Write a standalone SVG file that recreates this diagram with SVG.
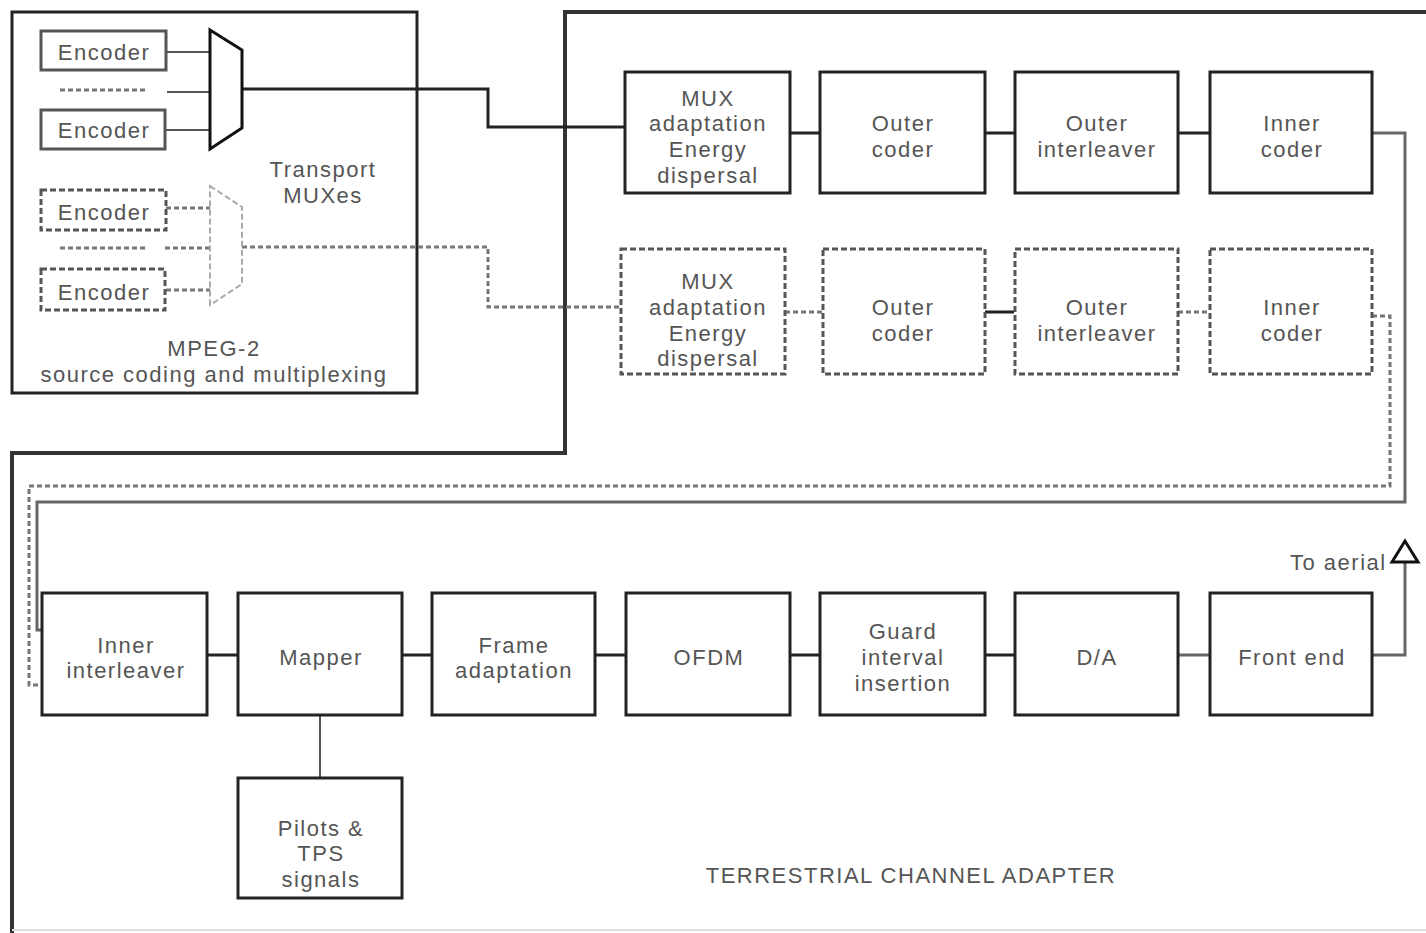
<svg xmlns="http://www.w3.org/2000/svg" width="1426" height="933" viewBox="0 0 1426 933">
<style>
text{font-family:"Liberation Sans",Arial,sans-serif;font-size:22px;letter-spacing:1.5px;fill:#555;text-anchor:middle}
.box{fill:#fff;stroke:#222;stroke-width:3}
.dbox{fill:#fff;stroke:#555;stroke-width:3;stroke-dasharray:6 3}
.enc{fill:#fff;stroke:#555;stroke-width:3}
.ln{fill:none;stroke:#222;stroke-width:3}
.gl{fill:none;stroke:#666;stroke-width:3}
.dl{fill:none;stroke:#777;stroke-width:3;stroke-dasharray:5 3}
.thin{fill:none;stroke:#555;stroke-width:2}
</style>
<rect width="1426" height="933" fill="#fff"/>
<g id="frames">
<rect x="12" y="12" width="405" height="381" fill="none" stroke="#222" stroke-width="3"/>
<path d="M12 933 V453 H565 V12 H1426" fill="none" stroke="#333" stroke-width="4"/>
<path d="M12 930 H1426" fill="none" stroke="#ddd" stroke-width="2"/>
</g>
<g id="connectors">
<path class="thin" d="M166 52 H210 M167 92 H210 M166 130 H210"/>
<path class="dl" d="M60 90 H145" stroke-width="2"/>
<path class="ln" d="M242 89 H488 V127 H625"/>
<path class="dl" d="M166 208 H210 M165 248 H210 M166 290 H210"/>
<path class="dl" d="M60 248 H145" stroke-width="2"/>
<path class="dl" d="M242 247 H488 V307 H620"/>
<path class="ln" d="M790 133 H820 M985 133 H1015 M1178 133 H1210"/>
<path class="dl" d="M785 312 H823"/>
<path class="ln" d="M985 312 H1014"/>
<path class="dl" d="M1178 312 H1208"/>
<path class="gl" d="M1372 133 H1405 V502 H37 V630 H42"/>
<path class="dl" d="M1372 316 H1390 V486 H29 V685 H42" stroke-width="2"/>
<path class="ln" d="M207 655 H238 M402 655 H432 M595 655 H626 M790 655 H820 M985 655 H1015"/>
<path class="gl" d="M1178 655 H1210 M1372 655 H1405 V560"/>
<path class="thin" d="M320 715 V778"/>
</g>
<g id="mpeg">
<g id="enc1"><rect class="enc" x="41" y="31" width="125" height="39"/><text x="104" y="60">Encoder</text></g>
<g id="enc2"><rect class="enc" x="41" y="110" width="124" height="39"/><text x="104" y="138">Encoder</text></g>
<g id="enc3"><rect class="dbox" x="41" y="190" width="125" height="40" stroke="#444"/><text x="104" y="220">Encoder</text></g>
<g id="enc4"><rect class="dbox" x="41" y="269" width="124" height="41" stroke="#888"/><text x="104" y="300">Encoder</text></g>
<g id="mux1"><polygon points="210,30 242,50 242,128 210,149" fill="#fff" stroke="#111" stroke-width="3"/></g>
<g id="mux2"><polygon points="210,186 242,207 242,284 210,305" fill="#fff" stroke="#aaa" stroke-width="2" stroke-dasharray="6 3"/></g>
<text x="323" y="177">Transport</text>
<text x="323" y="203">MUXes</text>
<text x="214" y="356">MPEG-2</text>
<text x="214" y="382">source coding and multiplexing</text>
</g>
<g id="row1">
<g id="mux_adapt"><rect class="box" x="625" y="72" width="165" height="121"/><text x="708" y="106">MUX</text><text x="708" y="131">adaptation</text><text x="708" y="157">Energy</text><text x="708" y="183">dispersal</text></g>
<g id="outer_coder"><rect class="box" x="820" y="72" width="165" height="121"/><text x="903" y="131">Outer</text><text x="903" y="157">coder</text></g>
<g id="outer_int"><rect class="box" x="1015" y="72" width="163" height="121"/><text x="1097" y="131">Outer</text><text x="1097" y="157">interleaver</text></g>
<g id="inner_coder"><rect class="box" x="1210" y="72" width="162" height="121"/><text x="1292" y="131">Inner</text><text x="1292" y="157">coder</text></g>
</g>
<g id="row2">
<g id="mux_adapt2"><rect class="dbox" x="621" y="249" width="164" height="125"/><text x="708" y="289">MUX</text><text x="708" y="315">adaptation</text><text x="708" y="341">Energy</text><text x="708" y="366">dispersal</text></g>
<g id="outer_coder2"><rect class="dbox" x="823" y="249" width="162" height="125"/><text x="903" y="315">Outer</text><text x="903" y="341">coder</text></g>
<g id="outer_int2"><rect class="dbox" x="1015" y="249" width="163" height="125"/><text x="1097" y="315">Outer</text><text x="1097" y="341">interleaver</text></g>
<g id="inner_coder2"><rect class="dbox" x="1210" y="249" width="162" height="125"/><text x="1292" y="315">Inner</text><text x="1292" y="341">coder</text></g>
</g>
<g id="row3">
<g id="inner_int"><rect class="box" x="42" y="593" width="165" height="122"/><text x="126" y="653">Inner</text><text x="126" y="678">interleaver</text></g>
<g id="mapper"><rect class="box" x="238" y="593" width="164" height="122"/><text x="321" y="665">Mapper</text></g>
<g id="frame"><rect class="box" x="432" y="593" width="163" height="122"/><text x="514" y="653">Frame</text><text x="514" y="678">adaptation</text></g>
<g id="ofdm"><rect class="box" x="626" y="593" width="164" height="122"/><text x="709" y="665">OFDM</text></g>
<g id="guard"><rect class="box" x="820" y="593" width="165" height="122"/><text x="903" y="639">Guard</text><text x="903" y="665">interval</text><text x="903" y="691">insertion</text></g>
<g id="da"><rect class="box" x="1015" y="593" width="163" height="122"/><text x="1097" y="665">D/A</text></g>
<g id="frontend"><rect class="box" x="1210" y="593" width="162" height="122"/><text x="1292" y="665">Front end</text></g>
<g id="pilots"><rect class="box" x="238" y="778" width="164" height="120"/><text x="321" y="836">Pilots &amp;</text><text x="321" y="861">TPS</text><text x="321" y="887">signals</text></g>
</g>
<g id="aerial">
<text x="1290" y="570" style="text-anchor:start">To aerial</text>
<polygon points="1405,541 1392,562 1418,562" fill="#fff" stroke="#111" stroke-width="3"/>
</g>
<text x="911" y="883">TERRESTRIAL CHANNEL ADAPTER</text>
</svg>
